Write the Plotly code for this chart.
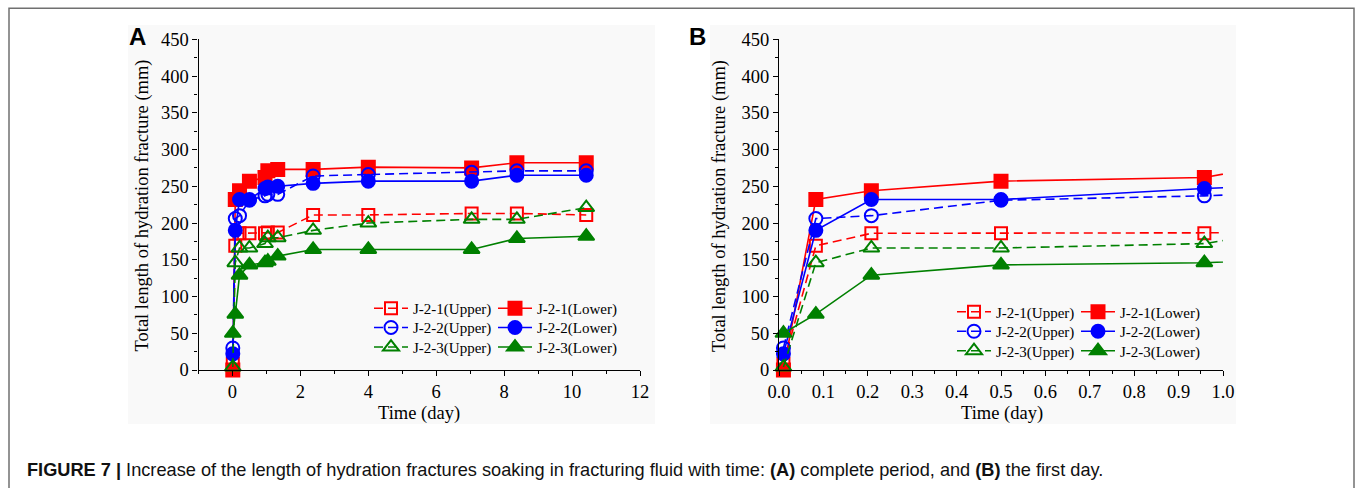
import plotly.graph_objects as go

# ---------------- data ----------------
time_day = [0.01, 0.083, 0.208, 0.5, 0.958, 1.042, 1.333, 2.375, 4.0, 7.042, 8.375, 10.417]

j21_upper = [8, 169, 186, 186, 186, 187, 187, 211, 211, 213, 213, 211]
j21_lower = [0, 232, 244, 257, 262, 271, 273, 273, 276, 275, 282, 282]
j22_upper = [30, 206, 210, 231, 237, 239, 239, 264, 266, 269, 271, 271]
j22_lower = [22, 190, 232, 232, 247, 249, 250, 254, 257, 257, 265, 265]
j23_upper = [4, 146, 166, 166, 172, 180, 180, 190, 200, 205, 205, 221]
j23_lower = [50, 76, 129, 143, 146, 148, 155, 164, 164, 164, 179, 182]

series_names = ["J-2-1(Upper)", "J-2-1(Lower)", "J-2-2(Upper)", "J-2-2(Lower)",
                "J-2-3(Upper)", "J-2-3(Lower)"]
series_values = [j21_upper, j21_lower, j22_upper, j22_lower, j23_upper, j23_lower]

y_title = "Total length of hydration fracture (mm)"
x_title = "Time (day)"
caption = ("<b>FIGURE 7 |</b> Increase of the length of hydration fractures soaking in "
           "fracturing fluid with time: <b>(A)</b> complete period, and <b>(B)</b> the first day.")

# ---------------- styles ----------------
W, H = 1355, 488
def px(x):
    return x / W
def py(y):
    return 1 - y / H

colors = ["#ff0000", "#ff0000", "#0000ff", "#0000ff", "#008000", "#008000"]
symbols = ["square-open", "square", "circle-open", "circle", "triangle-up-open", "triangle-up"]
sizes = [12, 13, 13, 13, 14, 14]
dashes = ["9px,5px", "solid"] * 3
SERIF = "Liberation Serif, Times New Roman, serif"
SANS = "Liberation Sans, Arial, sans-serif"

fig = go.Figure()

# one horizontal legend per specimen row, per panel
panels = [("x", "y", ["legend", "legend2", "legend3"]),
          ("x2", "y2", ["legend4", "legend5", "legend6"])]
for xa, ya, legs in panels:
    for i, (name, vals) in enumerate(zip(series_names, series_values)):
        fig.add_trace(go.Scatter(
            x=time_day, y=vals, name=name, mode="lines+markers",
            xaxis=xa, yaxis=ya,
            legend=legs[i // 2],
            cliponaxis=False,
            line=dict(color=colors[i], width=1.6, dash=dashes[i]),
            marker=dict(symbol=symbols[i], size=sizes[i], color=colors[i],
                        line=dict(color=colors[i], width=2)),
        ))

axis_common = dict(
    showline=True, linecolor="black", linewidth=1.3,
    ticks="outside", ticklen=5, tickwidth=1.3, tickcolor="black",
    showgrid=False, zeroline=False, mirror=False,
    tickfont=dict(family=SERIF, size=18.5, color="black"),
    automargin=False,
)
minor_common = dict(ticks="outside", ticklen=3, tickwidth=1.3, tickcolor="black", showgrid=False)

xA = [px(198.5), px(640)]
xB = [px(779), px(1223)]
yD = [py(370), py(39.3)]

fig.update_layout(
    template="none",
    width=W, height=H,
    margin=dict(l=0, r=0, t=0, b=0),
    paper_bgcolor="white", plot_bgcolor="rgba(0,0,0,0)",
    showlegend=True,
    xaxis=dict(domain=xA, range=[-1, 12], tick0=0, dtick=2,
               minor=dict(dtick=1, tick0=0, **minor_common), anchor="y", **axis_common),
    yaxis=dict(domain=yD, range=[0, 450], tick0=0, dtick=50,
               minor=dict(dtick=25, tick0=0, **minor_common), anchor="x", **axis_common),
    xaxis2=dict(domain=xB, range=[0, 1.0], tick0=0, dtick=0.1, tickformat=".1f",
                minor=dict(dtick=0.05, tick0=0, **minor_common), anchor="y2", **axis_common),
    yaxis2=dict(domain=yD, range=[0, 450], tick0=0, dtick=50,
                minor=dict(dtick=25, tick0=0, **minor_common), anchor="x2", **axis_common),
)

leg_common = dict(xanchor="left", yanchor="middle", bgcolor="rgba(0,0,0,0)", borderwidth=0,
                  font=dict(family=SERIF, size=15, color="black"), tracegroupgap=0,
                  itemwidth=34, orientation="h", entrywidth=75, entrywidthmode="pixels")
rowsA = [308.5, 327.7, 347.3]
rowsB = [312, 331.5, 351]
legend_layout = {}
for k, r in enumerate(rowsA):
    legend_layout["legend" if k == 0 else "legend%d" % (k + 1)] = dict(x=px(369), y=py(r), **leg_common)
for k, r in enumerate(rowsB):
    legend_layout["legend%d" % (k + 4)] = dict(x=px(952), y=py(r), **leg_common)
fig.update_layout(**legend_layout)

shapes = [
    dict(type="rect", xref="paper", yref="paper", x0=px(128), x1=px(655), y0=py(424), y1=py(25),
         fillcolor="#f9f9f9", line=dict(width=0), layer="below"),
    dict(type="rect", xref="paper", yref="paper", x0=px(710), x1=px(1236), y0=py(424), y1=py(25),
         fillcolor="#f9f9f9", line=dict(width=0), layer="below"),
    dict(type="rect", xref="paper", yref="paper", x0=px(9), x1=px(1354), y0=py(492), y1=py(8.3),
         fillcolor="rgba(0,0,0,0)", line=dict(color="#707070", width=1.5), layer="below"),
]
fig.update_layout(shapes=shapes)

anns = []
for letter, cx in (("A", 137.5), ("B", 697.5)):
    anns.append(dict(text="<b>" + letter + "</b>", x=px(cx), y=py(36.5), xref="paper", yref="paper",
                     showarrow=False, xanchor="center", yanchor="middle",
                     font=dict(family=SANS, size=24, color="black")))
for cx in (141.5, 719):
    anns.append(dict(text=y_title, x=px(cx), y=py(206), xref="paper", yref="paper", textangle=-90,
                     showarrow=False, xanchor="center", yanchor="middle",
                     font=dict(family=SERIF, size=18.5, color="black")))
for cx in (418.5, 1002):
    anns.append(dict(text=x_title, x=px(cx), y=py(413), xref="paper", yref="paper",
                     showarrow=False, xanchor="center", yanchor="middle",
                     font=dict(family=SERIF, size=18.5, color="black")))
anns.append(dict(text=caption, x=px(25), y=py(469.5), xref="paper", yref="paper",
                 showarrow=False, xanchor="left", yanchor="middle",
                 font=dict(family=SANS, size=18.2, color="#111111")))
fig.update_layout(annotations=anns)

fig.write_html("out.html", config={"displayModeBar": False},
               post_script="document.body.style.margin='0px';")
